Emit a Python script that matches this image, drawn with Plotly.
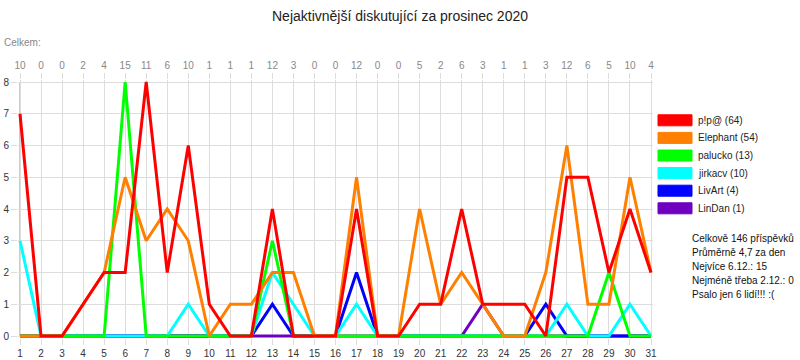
import plotly.graph_objects as go

days = list(range(1, 32))

names = ["p!p@", "Elephant", "palucko", "jirkacv", "LivArt", "LinDan"]
colors = ["#ff0000", "#ff8000", "#00ff00", "#00ffff", "#0000ff", "#7000c0"]

pip = [7, 0, 0, 1, 2, 2, 8, 2, 6, 1, 0, 0, 4, 0, 0, 0, 4, 0, 0, 1, 1, 4, 1, 1, 1, 0, 5, 5, 2, 4, 2]
elephant = [0, 0, 0, 1, 2, 5, 3, 4, 3, 0, 1, 1, 2, 2, 0, 0, 5, 0, 0, 4, 1, 2, 1, 0, 0, 2, 6, 1, 1, 5, 2]
palucko = [0, 0, 0, 0, 0, 8, 0, 0, 0, 0, 0, 0, 3, 0, 0, 0, 0, 0, 0, 0, 0, 0, 0, 0, 0, 0, 0, 0, 2, 0, 0]
jirkacv = [3, 0, 0, 0, 0, 0, 0, 0, 1, 0, 0, 0, 2, 1, 0, 0, 1, 0, 0, 0, 0, 0, 0, 0, 0, 0, 1, 0, 0, 1, 0]
livart = [0, 0, 0, 0, 0, 0, 0, 0, 0, 0, 0, 0, 1, 0, 0, 0, 2, 0, 0, 0, 0, 0, 0, 0, 0, 1, 0, 0, 0, 0, 0]
lindan = [0, 0, 0, 0, 0, 0, 0, 0, 0, 0, 0, 0, 0, 0, 0, 0, 0, 0, 0, 0, 0, 0, 1, 0, 0, 0, 0, 0, 0, 0, 0]

series = [pip, elephant, palucko, jirkacv, livart, lindan]
totals = [sum(s[i] for s in series) for i in range(len(days))]

W, H = 800, 360
L, R_EDGE, TOP, BOT = 20, 651, 82, 336  # pixel positions of day1, day31, y=8, y=0
PAD = 2
ux = (R_EDGE - L) / 30.0
uy = (BOT - TOP) / 8.0
x_range = [1 - PAD / ux, 31 + PAD / ux]
y_range = [0 - PAD / uy, 8 + PAD / uy]
ml, mr, mt, mb = L - PAD, W - R_EDGE - PAD, TOP - PAD, H - BOT - PAD
pw, ph = W - ml - mr, H - mt - mb


def px(x):
    return (x - ml) / pw


def py(y):
    return (H - mb - y) / ph


FONT = "Liberation Sans, Arial, sans-serif"

fig = go.Figure()
for name, col, vals in reversed(list(zip(names, colors, series))):
    fig.add_trace(go.Scatter(x=days, y=vals, mode="lines", name=name,
                             line=dict(color=col, width=3), showlegend=False,
                             hoverinfo="x+y+name"))

# invisible trace for the top axis (daily totals)
fig.add_trace(go.Scatter(x=days, y=[0] * len(days), xaxis="x2", mode="lines",
                         line=dict(color="rgba(0,0,0,0)", width=0),
                         showlegend=False, hoverinfo="skip"))

shapes = [dict(type="line", xref="x", yref="y", x0=1, x1=1, y0=0, y1=8,
               line=dict(color="#999999", width=1), layer="below")]
annotations = []

# manual legend
leg_y0 = 120.3
leg_dy = 17.6
for i, (name, col, vals) in enumerate(zip(names, colors, series)):
    cy = leg_y0 + i * leg_dy
    shapes.append(dict(type="rect", xref="paper", yref="paper",
                       x0=px(658), x1=px(692), y0=py(cy - 5.5), y1=py(cy + 5.5),
                       fillcolor=col, line=dict(color=col, width=1), opacity=1))
    annotations.append(dict(xref="paper", yref="paper", x=px(696), y=py(cy),
                            xanchor="left", yanchor="middle", showarrow=False,
                            text=f"{name} ({sum(vals)})",
                            font=dict(family=FONT, size=10, color="#222222")))

total = sum(totals)
avg = total / len(days)
imax = max(range(len(days)), key=lambda i: totals[i])
imin = min(range(len(days)), key=lambda i: totals[i])
people = sum(1 for s in series if sum(s) > 0)
stats = [
    f"Celkově {total} příspěvků",
    f"Průměrně {avg:.1f}".replace(".", ",") + " za den",
    f"Nejvíce {days[imax]}.12.: {totals[imax]}",
    f"Nejméně třeba {days[imin]}.12.: {totals[imin]}",
    f"Psalo jen {people} lidí!!! :(",
]
for i, t in enumerate(stats):
    annotations.append(dict(xref="paper", yref="paper", x=px(690), y=py(238 + i * 14),
                            xanchor="left", yanchor="middle", showarrow=False, text=t,
                            font=dict(family=FONT, size=10, color="#111111")))

annotations.append(dict(xref="paper", yref="paper", x=px(2), y=py(43),
                        xanchor="left", yanchor="middle", showarrow=False,
                        text="Celkem:", font=dict(family=FONT, size=10, color="#888888")))

fig.update_layout(
    width=W, height=H,
    margin=dict(l=ml, r=mr, t=mt, b=mb, pad=0, autoexpand=False),
    paper_bgcolor="white", plot_bgcolor="white",
    font=dict(family=FONT, size=10, color="#333333"),
    title=dict(text="Nejaktivnější diskutující za prosinec 2020",
               x=0.5, xanchor="center", xref="container",
               y=1 - 16 / H, yanchor="middle", yref="container",
               font=dict(family=FONT, size=14, color="#222222")),
    showlegend=False,
    xaxis=dict(range=x_range, tickmode="array", tickvals=days, ticktext=[str(d) for d in days],
               showgrid=True, gridcolor="#dddddd", gridwidth=1, zeroline=False,
               showline=False, ticks="outside", ticklen=6, tickcolor="#dddddd",
               automargin=False,
               tickfont=dict(family=FONT, size=10, color="#333333"), fixedrange=True),
    xaxis2=dict(range=x_range, overlaying="x", side="top", anchor="y",
                tickmode="array", tickvals=days, ticktext=[str(t) for t in totals],
                showgrid=False, zeroline=False, showline=False,
                ticks="outside", ticklen=6, tickcolor="#dddddd", automargin=False,
                tickfont=dict(family=FONT, size=10, color="#888888"), fixedrange=True),
    yaxis=dict(range=y_range, tickmode="array", tickvals=list(range(0, 9)),
               showgrid=True, gridcolor="#dddddd", gridwidth=1, zeroline=False,
               showline=False, ticks="outside", ticklen=6, tickcolor="#dddddd",
               automargin=False,
               tickfont=dict(family=FONT, size=10, color="#333333"), fixedrange=True),
    shapes=shapes,
    annotations=annotations,
)

fig.write_html("out.html", config={"displayModeBar": False},
               post_script="document.body.style.margin='0';document.body.style.padding='0';")
